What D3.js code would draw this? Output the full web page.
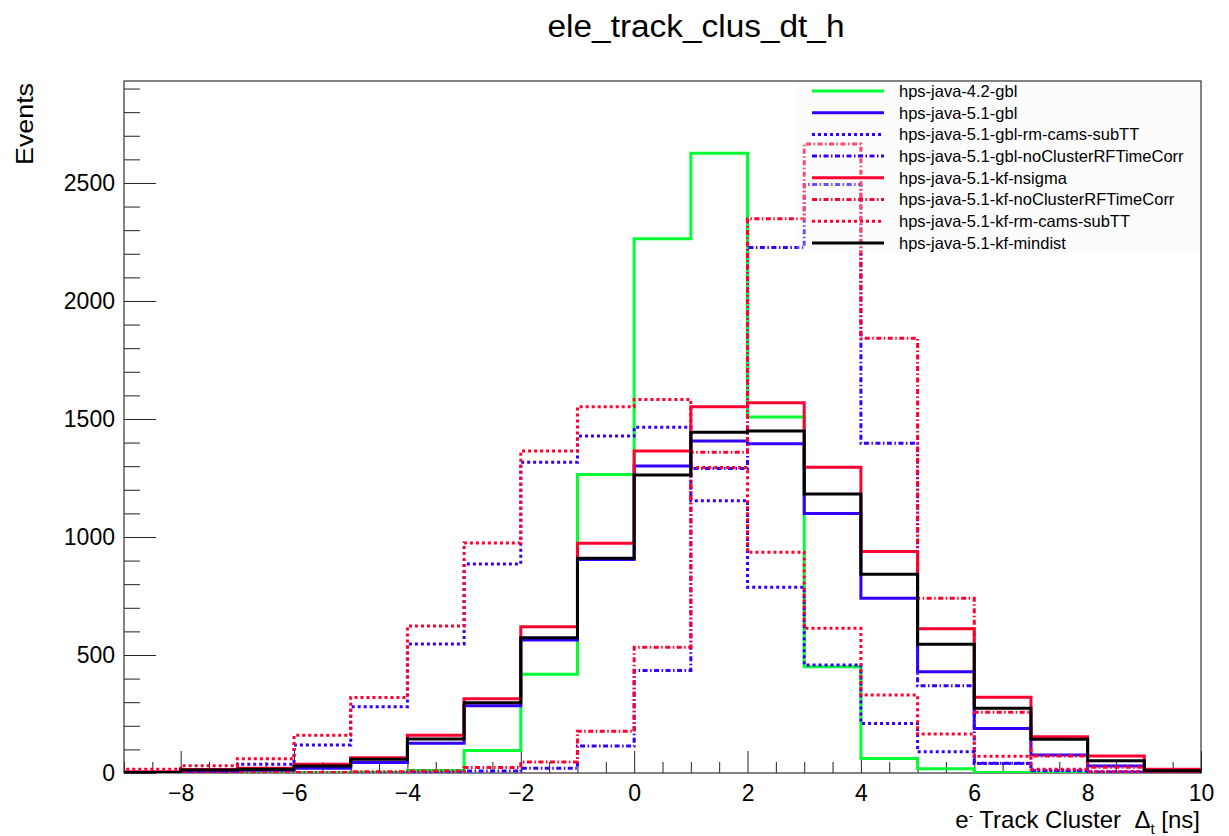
<!DOCTYPE html>
<html>
<head>
<meta charset="utf-8">
<script src="https://cdn.jsdelivr.net/npm/d3@7"></script>
<style>
  body { margin: 0; background: #fff; }
  text { font-family: "Liberation Sans", Arial, Helvetica, sans-serif; }
</style>
</head>
<body>
<div id="content"></div>
<script>
// bin lower edges, width 1 ns
const binLow = [-9, -8, -7, -6, -5, -4, -3, -2, -1, 0, 1, 2, 3, 4, 5, 6, 7, 8, 9];
const binWidth = 1;

const seriesNames = [
  "hps-java-4.2-gbl",
  "hps-java-5.1-gbl",
  "hps-java-5.1-gbl-rm-cams-subTT",
  "hps-java-5.1-gbl-noClusterRFTimeCorr",
  "hps-java-5.1-kf-nsigma",
  "hps-java-5.1-kf-noClusterRFTimeCorr",
  "hps-java-5.1-kf-rm-cams-subTT",
  "hps-java-5.1-kf-mindist"
];

const gbl42        = [0, 0, 1, 1, 3, 11, 95, 418, 1265, 2264, 2626, 1508, 450, 61, 18, 2, 0, 0, 0];
const gbl51        = [2, 6, 12, 20, 45, 126, 285, 564, 905, 1301, 1407, 1395, 1100, 740, 429, 189, 76, 30, 6];
const gbl51RmCams  = [4, 10, 37, 119, 281, 547, 886, 1317, 1428, 1465, 1154, 787, 458, 210, 90, 40, 12, 5, 2];
const gbl51NoRF    = [0, 0, 0, 1, 1, 3, 8, 20, 114, 434, 1290, 2227, 2493, 1397, 370, 41, 10, 3, 1];
const kfNsigma     = [4, 15, 20, 37, 65, 160, 315, 620, 973, 1364, 1552, 1569, 1295, 938, 611, 321, 154, 72, 16];
const kfNoRF       = [0, 0, 1, 2, 5, 8, 23, 47, 177, 533, 1359, 2348, 2665, 1842, 740, 257, 72, 24, 5];
const kfRmCams     = [16, 31, 60, 160, 320, 623, 975, 1364, 1552, 1583, 1294, 935, 613, 330, 165, 71, 16, 6, 2];
const kfMindist    = [2, 13, 16, 30, 58, 144, 298, 573, 910, 1263, 1444, 1449, 1182, 842, 545, 274, 143, 52, 10];

const xMajorTicks = [-8, -6, -4, -2, 0, 2, 4, 6, 8, 10];
const yMajorTicks = [0, 500, 1000, 1500, 2000, 2500];

const titleText = "ele_track_clus_dt_h";
const yTitle = "Events";

const allSeries = [gbl42, gbl51, gbl51RmCams, gbl51NoRF, kfNsigma, kfNoRF, kfRmCams, kfMindist];

// line styles, same order as the legend
const green = "#00ff33", blue = "#3300ff", red = "#ff0030";
const dotted = "3,3", dashdot = "5,2.5,1.5,2.5";
const styles = [
  {color: green, dash: null},
  {color: blue, dash: null},
  {color: blue, dash: dotted},
  {color: blue, dash: dashdot},
  {color: red, dash: null},
  {color: red, dash: dashdot},
  {color: red, dash: dotted},
  {color: "#000", dash: null}
];

const w = 1229, h = 836;
const fLeft = 124, fRight = 1201, fTop = 81, fBottom = 773;

const svg = d3.select("#content").append("svg").attr("width", w).attr("height", h);

const xScale = d3.scaleLinear().domain([-9, 10]).range([fLeft, fRight]);
const yScale = d3.scaleLinear().domain([0, 2932]).range([fBottom, fTop]);

svg.append("clipPath").attr("id", "plotclip")
  .append("rect").attr("x", fLeft).attr("y", fTop - 2).attr("width", fRight - fLeft).attr("height", fBottom - fTop + 2);

// title
svg.append("text").attr("x", 696).attr("y", 37).attr("text-anchor", "middle")
  .style("font-size", "31px").attr("textLength", 297).attr("lengthAdjust", "spacingAndGlyphs")
  .text(titleText);

// axes
const minus = d => d < 0 ? "\u2212" + Math.abs(d) : String(d);
const xMinor = d3.range(-9, 10.001, 0.5).filter(v => xMajorTicks.indexOf(v) < 0);
const yMinor = d3.range(0, 2932, 100).filter(v => yMajorTicks.indexOf(v) < 0);

svg.append("g").attr("transform", `translate(0,${fBottom})`)
  .call(d3.axisBottom(xScale).tickValues(xMajorTicks).tickSize(-22).tickPadding(12).tickFormat(minus));
svg.append("g").attr("transform", `translate(0,${fBottom})`)
  .call(d3.axisBottom(xScale).tickValues(xMinor).tickSize(-11).tickFormat(""));
svg.append("g").attr("transform", `translate(${fLeft},0)`)
  .call(d3.axisLeft(yScale).tickValues(yMajorTicks).tickSize(-32).tickPadding(9).tickFormat(d3.format("d")));
svg.append("g").attr("transform", `translate(${fLeft},0)`)
  .call(d3.axisLeft(yScale).tickValues(yMinor).tickSize(-16).tickFormat(""));

svg.selectAll(".domain").remove();
svg.selectAll(".tick line").attr("stroke", "#222").attr("stroke-width", 1);
svg.selectAll(".tick text").style("font-size", "23px").attr("fill", "#000")
  .style("font-family", "'Liberation Sans', Arial, sans-serif");

// frame
svg.append("rect").attr("x", fLeft).attr("y", fTop).attr("width", fRight - fLeft).attr("height", fBottom - fTop)
  .attr("fill", "none").attr("stroke", "#333").attr("stroke-width", 1.2);

// axis titles
svg.append("text").attr("transform", `translate(33,83) rotate(-90)`).attr("text-anchor", "end")
  .style("font-size", "24px").attr("textLength", 82).attr("lengthAdjust", "spacingAndGlyphs")
  .text(yTitle);

const xt = svg.append("text").attr("x", 1200).attr("y", 828).attr("text-anchor", "end").style("font-size", "24px");
xt.append("tspan").text("e");
xt.append("tspan").attr("dy", -8).style("font-size", "13px").text("-");
xt.append("tspan").attr("dy", 8).text(" Track Cluster\u00a0\u00a0\u0394");
xt.append("tspan").attr("dy", 6).style("font-size", "15px").text("t");
xt.append("tspan").attr("dy", -6).text(" [ns]");

// histograms as step outlines
const stepLine = d3.line()
  .x(d => xScale(d[0]))
  .y(d => yScale(d[1]))
  .curve(d3.curveStepAfter);

const histG = svg.append("g").attr("clip-path", "url(#plotclip)");
allSeries.forEach((vals, i) => {
  const pts = [[binLow[0], 0]];
  vals.forEach((v, j) => pts.push([binLow[j], v]));
  pts.push([binLow[binLow.length - 1] + binWidth, vals[vals.length - 1]]);
  pts.push([binLow[binLow.length - 1] + binWidth, 0]);
  histG.append("path").datum(pts)
    .attr("d", stepLine)
    .attr("fill", "none")
    .attr("stroke", styles[i].color)
    .attr("stroke-width", 3)
    .attr("stroke-dasharray", styles[i].dash)
    .attr("stroke-linejoin", "miter");
});

// legend
const legend = svg.append("g").attr("id", "legend");
legend.append("rect").attr("x", 797).attr("y", fTop + 1).attr("width", fRight - 797 - 1).attr("height", 171)
  .attr("fill", "#f6f6f6").attr("fill-opacity", 0.3);

const rows = legend.selectAll("g.row").data(seriesNames).enter().append("g")
  .attr("class", "row")
  .attr("transform", (d, i) => `translate(0,${91 + i * 21.7})`);

rows.append("line").attr("x1", 812).attr("x2", 884).attr("y1", 0).attr("y2", 0)
  .attr("stroke", (d, i) => styles[i].color)
  .attr("stroke-width", 3)
  .attr("stroke-dasharray", (d, i) => styles[i].dash);

rows.append("text").attr("x", 899).attr("y", 0).attr("dy", "0.36em")
  .style("font-size", "16.5px").text(d => d);
</script>
</body>
</html>
